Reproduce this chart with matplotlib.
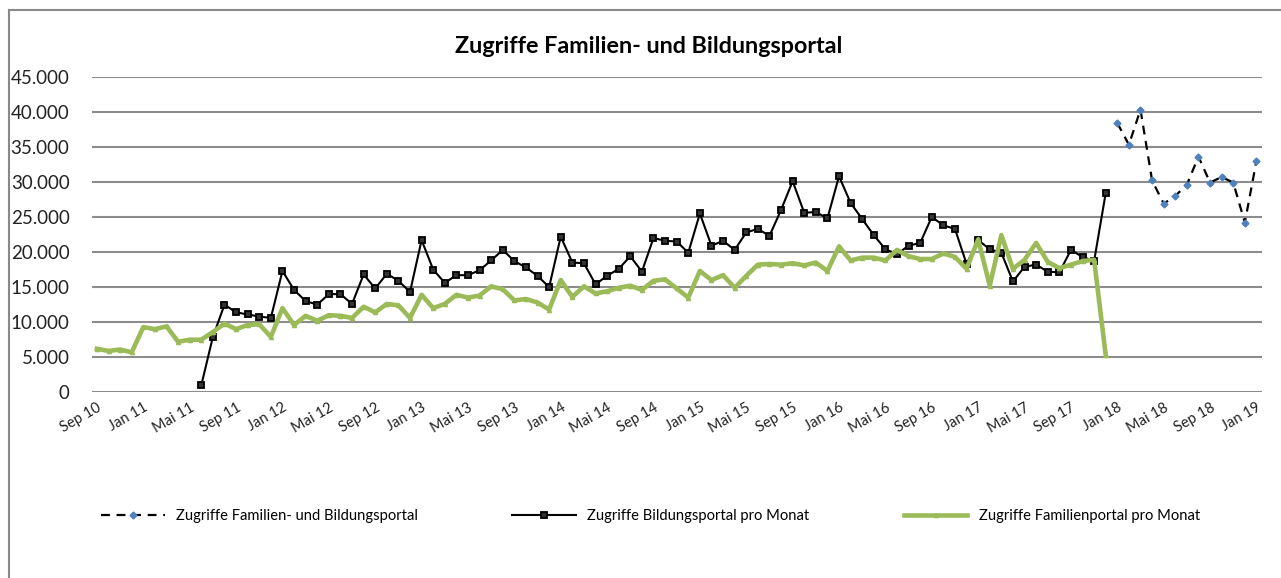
import matplotlib.pyplot as plt
import numpy as np
from matplotlib.lines import Line2D

plt.rcParams["font.family"] = ["Lato", "DejaVu Sans"]

# Monatsindex: 0 = Sep 10 ... 100 = Jan 19
familien = [6200, 5900, 6100, 5700, 9300, 9000, 9400, 7200, 7500, 7500,
            8600, 9800, 9000, 9600, 9700, 7900, 12000, 9600, 10900, 10200,
            11000, 10900, 10600, 12200, 11400, 12600, 12400, 10600, 13900, 12000,
            12600, 13900, 13500, 13800, 15100, 14700, 13100, 13300, 12800, 11800,
            16000, 13600, 15100, 14100, 14400, 14900, 15200, 14600, 15900, 16100,
            14800, 13500, 17300, 16000, 16700, 14900, 16600, 18200, 18300, 18200,
            18400, 18100, 18500, 17300, 20800, 18800, 19200, 19200, 18800, 20300,
            19400, 19000, 19000, 19800, 19300, 17600, 21800, 15200, 22400, 17600,
            18900, 21300, 18600, 17700, 18200, 18700, 18900, 5300]

bildung_start = 9
bildung = [1000, 7900, 12500, 11400, 11100, 10800, 10600, 17300, 14600, 13000,
           12500, 14000, 14000, 12600, 16800, 14800, 16900, 15900, 14300, 21700,
           17500, 15600, 16700, 16700, 17400, 18800, 20300, 18700, 17800, 16600,
           15000, 22200, 18500, 18400, 15400, 16600, 17600, 19400, 17200, 22000,
           21600, 21500, 19900, 25500, 20900, 21600, 20300, 22800, 23300, 22300,
           26000, 30100, 25600, 25700, 24800, 30800, 27000, 24700, 22400, 20400,
           19700, 20900, 21300, 25000, 23800, 23300, 18300, 21700, 20400, 19900,
           15800, 17900, 18200, 17200, 17100, 20300, 19300, 18700, 28400]

gesamt_start = 88
gesamt = [38400, 35300, 40300, 30200, 26900, 28000, 29600, 33600, 29900, 30700,
          29900, 24200, 33000]

x_labels = ["Sep 10", "Jan 11", "Mai 11", "Sep 11", "Jan 12", "Mai 12", "Sep 12",
            "Jan 13", "Mai 13", "Sep 13", "Jan 14", "Mai 14", "Sep 14", "Jan 15",
            "Mai 15", "Sep 15", "Jan 16", "Mai 16", "Sep 16", "Jan 17", "Mai 17",
            "Sep 17", "Jan 18", "Mai 18", "Sep 18", "Jan 19"]
y_ticks = [0, 5000, 10000, 15000, 20000, 25000, 30000, 35000, 40000, 45000]
y_labels = ["0", "5.000", "10.000", "15.000", "20.000", "25.000", "30.000",
            "35.000", "40.000", "45.000"]

fig = plt.figure(figsize=(12.81, 5.78), dpi=100)
ax = fig.add_axes([0.0716, 0.3213, 0.9133, 0.546])

x_fam = np.arange(len(familien))
x_bil = np.arange(bildung_start, bildung_start + len(bildung))
x_ges = np.arange(gesamt_start, gesamt_start + len(gesamt))

ax.plot(x_ges, gesamt, color="black", lw=1.6, ls=(0, (4, 3)), marker="D",
        ms=3.5, mfc="#4F81BD", mec="#4F81BD", zorder=3,
        label="Zugriffe Familien- und Bildungsportal")
ax.plot(x_bil, bildung, color="black", lw=1.5, marker="s", ms=4.8,
        mfc="#333333", mec="black", mew=1.3, zorder=4,
        label="Zugriffe Bildungsportal pro Monat")
ax.plot(x_fam, familien, color="#9BBB59", lw=3.3, marker="^", ms=3,
        mfc="#9BBB59", mec="#9BBB59", zorder=5,
        label="Zugriffe Familienportal pro Monat")

ax.set_xlim(-0.45, 100.45)
ax.set_ylim(0, 45000)
ax.set_yticks(y_ticks)
ax.set_yticklabels(y_labels, fontsize=13.5)
ax.set_xticks(np.arange(0, 101, 4))
ax.set_xticklabels(x_labels, fontsize=10.5, rotation=30, ha="right",
                   rotation_mode="anchor")
ax.tick_params(axis="y", length=0, pad=16, colors="#222222")
ax.tick_params(axis="x", length=0, pad=6, colors="#222222")
ax.grid(axis="y", color="#8c8c8c", lw=1.5)
ax.set_axisbelow(True)
for s in ax.spines.values():
    s.set_visible(False)

fig.text(0.5066, 0.920, "Zugriffe Familien- und Bildungsportal", ha="center",
         va="center", fontsize=16.8, fontweight="bold")

fig.legend(loc="center", bbox_to_anchor=(0.508, 0.107), ncol=3, frameon=False,
           fontsize=10.6, handlelength=4.3, handletextpad=0.8, columnspacing=6.4,
           numpoints=1)

# Rahmen links und oben
fig.add_artist(Line2D([9 / 1281, 9 / 1281], [0, 1 - 10 / 578],
                      transform=fig.transFigure, color="#898989", lw=1.5))
fig.add_artist(Line2D([9 / 1281, 1], [1 - 10 / 578, 1 - 10 / 578],
                      transform=fig.transFigure, color="#898989", lw=1.5))

fig.savefig("out.png", dpi=100)
